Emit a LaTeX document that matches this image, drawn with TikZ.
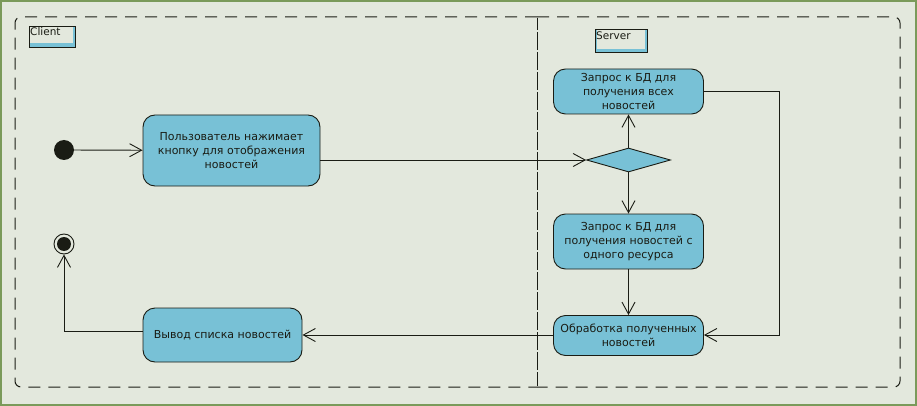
\documentclass[tikz,border=0pt]{standalone}
\usepackage{fontspec}
\setmainfont{DejaVu Sans}
\usetikzlibrary{arrows.meta,shapes.geometric}
\definecolor{bgc}{HTML}{E3E8DD}
\definecolor{frame}{HTML}{7A9A5A}
\definecolor{boxblue}{HTML}{78C1D6}
\definecolor{ink}{HTML}{1A1C14}
\tikzset{
  act/.style={draw=ink, fill=boxblue, rounded corners=12pt, line width=0.9pt, inner sep=0pt,
    align=center, text=ink, font=\fontsize{11}{14}\selectfont},
  flow/.style={draw=ink, line width=0.9pt, -{Straight Barb[length=12pt,width=13pt,line width=0.9pt]}},
  part/.style={draw=ink, line width=1pt, dash pattern=on 12pt off 8pt, rounded corners=6pt},
  lbl/.style={text=ink, font=\fontsize{10.5}{12}\selectfont, inner sep=0pt, anchor=base west}
}
\begin{document}
\begin{tikzpicture}[x=1pt,y=-1pt]
\useasboundingbox (0,0) rectangle (917,406);
\fill[bgc] (0,0) rectangle (917,406);
\draw[frame, line width=2pt] (1,1) rectangle (916,405);
% partitions
\draw[part] (537,17) -- (15,17) -- (15,387) -- (537,387);
\draw[part] (537,17) -- (900,17) -- (900,387) -- (537,387);
\draw[ink, line width=1pt, dash pattern=on 12pt off 8pt] (537,18) -- (537,386);
\draw[ink, line width=1pt, dash pattern=on 12pt off 8pt, dash phase=6pt] (537,18) -- (537,386);
% lane labels
\fill[boxblue] (29,26) rectangle (75,47);
\fill[bgc] (30,27) rectangle (72.5,43.5);
\draw[ink, line width=0.9pt] (29,26) rectangle (75,47);
\node[lbl] (lc) at (30,35.5) {Client};
\fill[boxblue] (595,29) rectangle (647,52);
\fill[bgc] (597,30) rectangle (644.5,49);
\draw[ink, line width=0.9pt] (595,29) rectangle (647,52);
\node[lbl] (ls) at (596,39.5) {Server};
% nodes
\node[circle, fill=ink, minimum size=20pt, inner sep=0pt] (init) at (64,150) {};
\node[act, minimum width=177pt, minimum height=71pt] (b1) at (231.5,150.5) {Пользователь нажимает\\кнопку для отображения\\новостей};
\node[diamond, draw=ink, fill=boxblue, line width=0.9pt, minimum width=84pt, minimum height=24pt, inner sep=0pt] (dec) at (628.5,160) {};
\node[act, minimum width=150pt, minimum height=45pt] (b2) at (628.5,91.5) {Запрос к БД для\\получения всех\\новостей};
\node[act, minimum width=150pt, minimum height=55pt] (b3) at (628.5,241.5) {Запрос к БД для\\получения новостей с\\одного ресурса};
\node[act, minimum width=150pt, minimum height=40pt] (b4) at (628.5,335.5) {Обработка полученных\\новостей};
\node[act, minimum width=159pt, minimum height=54pt] (b5) at (222.5,335) {Вывод списка новостей};
\node[circle, draw=ink, line width=0.9pt, fill=bgc, minimum size=20pt, inner sep=0pt] (fin) at (64,244) {};
\fill[ink] (fin.center) circle (7pt);
% connectors
\draw[flow] (init) -- (b1);
\draw[flow] (b1.east |- 0,160) -- (dec.west);
\draw[flow] (dec.north) -- (b2.south);
\draw[flow] (dec.south) -- (b3.north);
\draw[flow] (b3.south) -- (b4.north);
\draw[flow] (b2.east |- 0,91) -- (779,91) -- (779,335) -- (b4.east |- 0,335);
\draw[flow] (b4.west |- 0,335) -- (b5.east |- 0,335);
\draw[flow] (b5.west |- 0,331) -- (64,331) -- (fin.south);
\end{tikzpicture}
\end{document}
